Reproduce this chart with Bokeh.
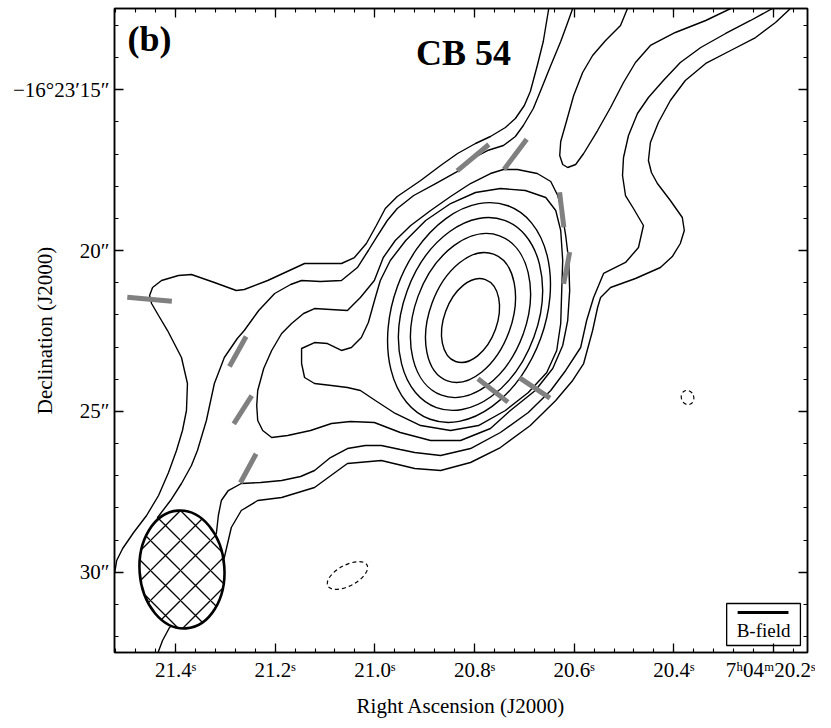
import math
from bokeh.plotting import figure
from bokeh.models import Range1d, FixedTicker, LinearAxis, Label, CustomJSTickFormatter
from bokeh.embed import file_html
from bokeh.resources import INLINE
from bokeh.core.properties import value

# ---------------- axes (RA in seconds of 7h04m, Dec in arcsec of -16d23m) ----------------
ra_ticks = [21.4, 21.2, 21.0, 20.8, 20.6, 20.4, 20.2]
ra_tick_labels = ["21.4ˢ", "21.2ˢ", "21.0ˢ", "20.8ˢ", "20.6ˢ", "20.4ˢ", "7ʰ04ᵐ20.2ˢ"]
ra_minor = [round(20.12 + 0.04 * i, 2) for i in range(36)]
dec_ticks = [15, 20, 25, 30]
dec_tick_labels = ["−16°23′15″", "20″", "25″", "30″"]
dec_minor = list(range(13, 33))
dec0_deg = 16 + 23 / 60 + 22 / 3600

# ---------------- contours (read from the map) ----------------
# lowest level, north-west branch
c1a_ra = [21.526, 21.522, 21.518, 21.506, 21.484, 21.458, 21.434, 21.414, 21.398, 21.386, 21.378, 21.376,
          21.388, 21.416, 21.434, 21.448, 21.452, 21.446, 21.428, 21.394, 21.368, 21.322, 21.278, 21.262,
          21.215, 21.141, 21.067, 21.041, 21.017, 20.997, 20.979, 20.955, 20.908, 20.868, 20.834, 20.798,
          20.768, 20.738, 20.718, 20.700, 20.688, 20.674, 20.662, 20.655, 20.651, 20.649]
c1a_dec = [30.196, 30.010, 29.636, 29.263, 28.766, 28.237, 27.615, 26.900, 26.216, 25.594, 24.972, 24.133,
           23.324, 22.485, 22.018, 21.645, 21.396, 21.148, 20.930, 20.774, 20.743, 20.992, 21.241, 21.210,
           20.930, 20.401, 20.401, 20.215, 19.779, 19.220, 18.691, 18.318, 17.820, 17.354, 16.981, 16.670,
           16.452, 16.172, 15.892, 15.488, 15.053, 14.244, 13.498, 12.845, 12.472, 12.285]
# lowest level, south-east branch
c1b_ra = [20.164, 20.166, 20.196, 20.236, 20.286, 20.336, 20.377, 20.407, 20.431, 20.447, 20.451, 20.445,
          20.433, 20.407, 20.383, 20.379, 20.387, 20.403, 20.427, 20.477, 20.527, 20.547, 20.553, 20.563,
          20.581, 20.603, 20.637, 20.688, 20.748, 20.808, 20.868, 20.920, 20.987, 21.055, 21.121, 21.187,
          21.235, 21.268, 21.288, 21.302, 21.330, 21.380, 21.412, 21.426, 21.438]
c1b_dec = [12.317, 12.472, 12.907, 13.374, 13.778, 14.182, 14.711, 15.333, 16.017, 16.639, 17.198, 17.572,
           17.914, 18.442, 18.971, 19.375, 19.779, 20.184, 20.526, 20.868, 21.148, 21.458, 21.769, 22.485,
           23.511, 24.039, 24.661, 25.439, 26.123, 26.589, 26.838, 26.776, 26.527, 26.620, 27.367, 27.677,
           27.771, 28.082, 28.610, 29.543, 30.569, 31.347, 31.720, 32.124, 32.622]
# second level
c2_ra = [20.601, 20.603, 20.613, 20.627, 20.647, 20.668, 20.682, 20.702, 20.718, 20.742,
         20.774, 20.804, 20.834, 20.878, 20.922, 20.955, 20.975, 20.997, 21.013, 21.035,
         21.067, 21.109, 21.147, 21.169, 21.201, 21.233, 21.262, 21.276, 21.302, 21.322,
         21.338, 21.356, 21.368, 21.388, 21.410, 21.436, 21.430, 21.380, 21.318, 21.314,
         21.308, 21.294, 21.268, 21.229, 21.187, 21.149, 21.121, 21.089, 21.055, 21.019,
         20.987, 20.949, 20.920, 20.868, 20.808, 20.748, 20.692, 20.647, 20.617, 20.587,
         20.575, 20.561, 20.541, 20.497, 20.471, 20.461, 20.481, 20.497, 20.503, 20.501,
         20.491, 20.473, 20.451, 20.421, 20.387, 20.346, 20.296, 20.246, 20.202, 20.194]
c2_dec = [12.317, 12.472, 12.907, 13.498, 14.244, 15.053, 15.582, 16.110, 16.452, 16.732,
          16.888, 17.136, 17.540, 17.914, 18.287, 18.691, 19.064, 19.593, 19.997, 20.526,
          20.930, 20.961, 20.930, 21.054, 21.334, 21.863, 22.485, 22.733, 23.324, 24.133,
          25.283, 26.216, 26.682, 27.242, 27.771, 28.299, 29.170, 29.636, 28.797, 28.237,
          27.771, 27.460, 27.242, 27.211, 27.149, 27.024, 26.838, 26.434, 26.154, 26.060,
          26.060, 26.185, 26.278, 26.371, 26.154, 25.656, 25.034, 24.350, 23.728, 23.013,
          22.174, 21.458, 20.712, 20.370, 19.904, 19.220, 18.691, 18.287, 17.665, 17.105,
          16.421, 15.737, 15.239, 14.711, 14.151, 13.685, 13.249, 12.845, 12.472, 12.348]
# third level: north-east finger
c3f_ra = [20.491, 20.493, 20.507, 20.537, 20.563, 20.583, 20.601, 20.615, 20.627, 20.629, 20.623, 20.613,
          20.597, 20.581, 20.553, 20.527, 20.501, 20.477, 20.447, 20.397, 20.336, 20.286, 20.276]
c3f_dec = [12.317, 12.472, 13.001, 13.467, 13.933, 14.462, 15.177, 15.955, 16.608, 17.043, 17.323, 17.416,
           17.323, 16.981, 16.266, 15.550, 14.773, 14.151, 13.622, 13.218, 12.845, 12.472, 12.348]
# third level: around the core
c3_ra = [20.742, 20.714, 20.674, 20.647, 20.633, 20.625, 20.617, 20.611, 20.609, 20.613, 20.623, 20.643,
         20.678, 20.728, 20.768, 20.828, 20.888, 20.949, 21.001, 21.049, 21.087, 21.129, 21.175, 21.207,
         21.225, 21.235, 21.237, 21.235, 21.223, 21.207, 21.187, 21.167, 21.143, 21.121, 21.089, 21.055,
         21.029, 21.001, 20.983, 20.959, 20.928, 20.888, 20.848, 20.808, 20.768, 20.742]
c3_dec = [17.478, 17.478, 17.603, 17.851, 18.287, 18.753, 19.531, 20.308, 21.241, 22.174, 22.951, 23.666,
          24.350, 24.972, 25.532, 25.905, 25.905, 25.656, 25.345, 25.314, 25.376, 25.594, 25.750, 25.812,
          25.594, 25.283, 24.817, 24.350, 23.666, 23.106, 22.578, 22.267, 21.956, 21.801, 21.832, 21.863,
          21.458, 20.930, 20.215, 19.686, 19.220, 18.753, 18.318, 17.914, 17.603, 17.478]
# fourth level (with the south-west bump)
c4_ra = [20.999, 20.989, 20.969, 20.938, 20.898, 20.848, 20.798, 20.748, 20.698, 20.657, 20.637, 20.627,
         20.623, 20.625, 20.627, 20.635, 20.655, 20.692, 20.738, 20.792, 20.848, 20.908, 20.959, 20.999,
         21.029, 21.055, 21.087, 21.121, 21.141, 21.147, 21.147, 21.121, 21.095, 21.067, 21.047, 21.027,
         21.013, 20.999]
c4_dec = [21.458, 20.930, 20.308, 19.686, 19.064, 18.536, 18.193, 18.069, 18.131, 18.349, 18.753, 19.375,
          20.308, 21.241, 22.267, 23.106, 23.791, 24.412, 24.972, 25.439, 25.594, 25.439, 25.065, 24.661,
          24.350, 24.257, 24.195, 24.133, 23.946, 23.511, 23.044, 22.858, 22.889, 23.106, 23.013, 22.702,
          22.236, 21.458]
# inner closed contours (levels 5..9), as ellipses: centre, minor/major axis (arcsec), position angle (deg)
ring_ra = [20.811, 20.808, 20.808, 20.808, 20.808]
ring_dec = [21.925, 21.971, 22.018, 22.080, 22.174]
ring_minor = [4.401, 3.898, 3.228, 2.374, 1.530]
ring_major = [7.071, 6.200, 5.280, 4.198, 2.711]
ring_pa = [-20, -20, -20, -20, -20]
# negative contours
neg_ra = [21.055, 20.3725]
neg_dec = [30.103, 24.568]
neg_minor = [0.60, 0.36]
neg_major = [1.38, 0.45]
neg_pa = [-62, 20]

# ---------------- B-field segments ----------------
vec_ra = [21.452, 21.275, 21.265, 21.254, 20.803, 20.718, 20.625, 20.615, 20.763, 20.679]
vec_dec = [21.511, 23.137, 24.947, 26.769, 17.111, 17.006, 18.728, 20.541, 24.350, 24.272]
vec_pa = [84.5, 152.7, 149.4, 153.3, 131.8, 145.2, 6.5, 170.0, 50.1, 54.2]
vec_len = [1.294, 1.050, 1.022, 1.009, 1.227, 1.148, 1.095, 1.001, 1.129, 1.079]

# ---------------- beam ----------------
beam_ra, beam_dec = 21.387, 29.916
beam_major, beam_minor, beam_pa = 3.67, 2.45, 4.0

# ---------------- figure ----------------
SERIF = "Liberation Serif"
sec_per_arcsec = 1.0 / (15.0 * math.cos(math.radians(dec0_deg)))

p = figure(frame_width=693, frame_height=644,
           x_range=Range1d(21.5224, 20.1318), y_range=Range1d(32.497, 12.472),
           output_backend="svg", toolbar_location=None,
           min_border_left=114, min_border_right=8, min_border_top=8, min_border_bottom=68,
           background_fill_color="white", border_fill_color="white")
p.grid.visible = False
p.outline_line_color = "black"
p.outline_line_width = 1.5

for ax in (p.xaxis[0], p.yaxis[0]):
    ax.major_tick_in = 9
    ax.major_tick_out = 0
    ax.minor_tick_in = 4
    ax.minor_tick_out = 0
    ax.major_tick_line_width = 1.3
    ax.minor_tick_line_width = 1.1
    ax.axis_line_width = 1.5
    ax.major_label_text_font = SERIF
    ax.major_label_text_font_size = "21px"
    ax.major_label_text_color = "black"
    ax.axis_label_text_font = SERIF
    ax.axis_label_text_font_size = "21px"
    ax.axis_label_text_font_style = "normal"
    ax.axis_label_text_color = "black"

p.xaxis[0].ticker = FixedTicker(ticks=ra_ticks, minor_ticks=ra_minor)
p.xaxis[0].major_label_overrides = dict(zip(ra_ticks, ra_tick_labels))
p.xaxis[0].major_label_standoff = 5
p.xaxis[0].axis_label = "Right Ascension (J2000)"
p.xaxis[0].axis_label_standoff = 9
p.yaxis[0].ticker = FixedTicker(ticks=dec_ticks, minor_ticks=dec_minor)
p.yaxis[0].major_label_overrides = dict(zip(dec_ticks, dec_tick_labels))
p.yaxis[0].major_label_standoff = 5
p.yaxis[0].major_label_orientation = "horizontal"
p.yaxis[0].axis_label = "Declination (J2000)"
p.yaxis[0].axis_label_standoff = -47

blank = CustomJSTickFormatter(code="return ''")
top = LinearAxis(ticker=FixedTicker(ticks=ra_ticks, minor_ticks=ra_minor), formatter=blank,
                 major_tick_in=9, major_tick_out=0, minor_tick_in=4, minor_tick_out=0,
                 major_label_standoff=0, major_label_text_font_size="0px",
                 axis_line_width=1.5, major_tick_line_width=1.3, minor_tick_line_width=1.1)
right = LinearAxis(ticker=FixedTicker(ticks=dec_ticks, minor_ticks=dec_minor), formatter=blank,
                   major_tick_in=9, major_tick_out=0, minor_tick_in=4, minor_tick_out=0,
                   major_label_standoff=0, major_label_text_font_size="0px",
                   axis_line_width=1.5, major_tick_line_width=1.3, minor_tick_line_width=1.1)
p.add_layout(top, "above")
p.add_layout(right, "right")

# contours
p.multi_line(xs=[c1a_ra, c1b_ra, c2_ra, c3f_ra, c3_ra, c4_ra],
             ys=[c1a_dec, c1b_dec, c2_dec, c3f_dec, c3_dec, c4_dec],
             line_color="black", line_width=1.4)
p.ellipse(x=ring_ra, y=ring_dec,
          width=[m * sec_per_arcsec for m in ring_minor], height=ring_major,
          angle=[math.radians(a) for a in ring_pa],
          fill_color=None, line_color="black", line_width=1.4)
p.ellipse(x=neg_ra, y=neg_dec,
          width=[m * sec_per_arcsec for m in neg_minor], height=neg_major,
          angle=[math.radians(a) for a in neg_pa],
          fill_color=None, line_color="black", line_width=1.2, line_dash="4 3")

# B-field segments
x0, y0, x1, y1 = [], [], [], []
for ra, de, pa, ln in zip(vec_ra, vec_dec, vec_pa, vec_len):
    e = 0.5 * ln * math.sin(math.radians(pa))
    n = 0.5 * ln * math.cos(math.radians(pa))
    x0.append(ra + e * sec_per_arcsec); y0.append(de - n)
    x1.append(ra - e * sec_per_arcsec); y1.append(de + n)
p.segment(x0=x0, y0=y0, x1=x1, y1=y1, line_color="#808080", line_width=5, line_cap="butt")

# synthesized beam
p.ellipse(x=[beam_ra], y=[beam_dec], width=[beam_minor * sec_per_arcsec], height=[beam_major],
          angle=[math.radians(beam_pa)], fill_color="white", line_color="black", line_width=2.6,
          hatch_pattern="x", hatch_color="black", hatch_weight=1.3, hatch_scale=30)

# legend box
p.quad(left=[20.294], right=[20.146], top=[30.973], bottom=[32.279],
       fill_color="white", line_color="black", line_width=1.3)
p.segment(x0=[20.272], y0=[31.253], x1=[20.170], y1=[31.253], line_color="black", line_width=3)
p.text(x=[20.220], y=[31.813], text=["B-field"], text_font=value(SERIF), text_font_size="19px",
       text_align="center", text_baseline="middle", text_color="black")

# texts
p.add_layout(Label(x=13, y=614, x_units="screen", y_units="screen", text="(b)",
                   text_font=SERIF, text_font_size="36px", text_font_style="bold", text_color="black",
                   text_align="left", text_baseline="middle"))
p.add_layout(Label(x=349, y=600, x_units="screen", y_units="screen", text="CB 54",
                   text_font=SERIF, text_font_size="36px", text_font_style="bold", text_color="black",
                   text_align="center", text_baseline="middle"))

open("out.html", "w").write(file_html(p, INLINE))
